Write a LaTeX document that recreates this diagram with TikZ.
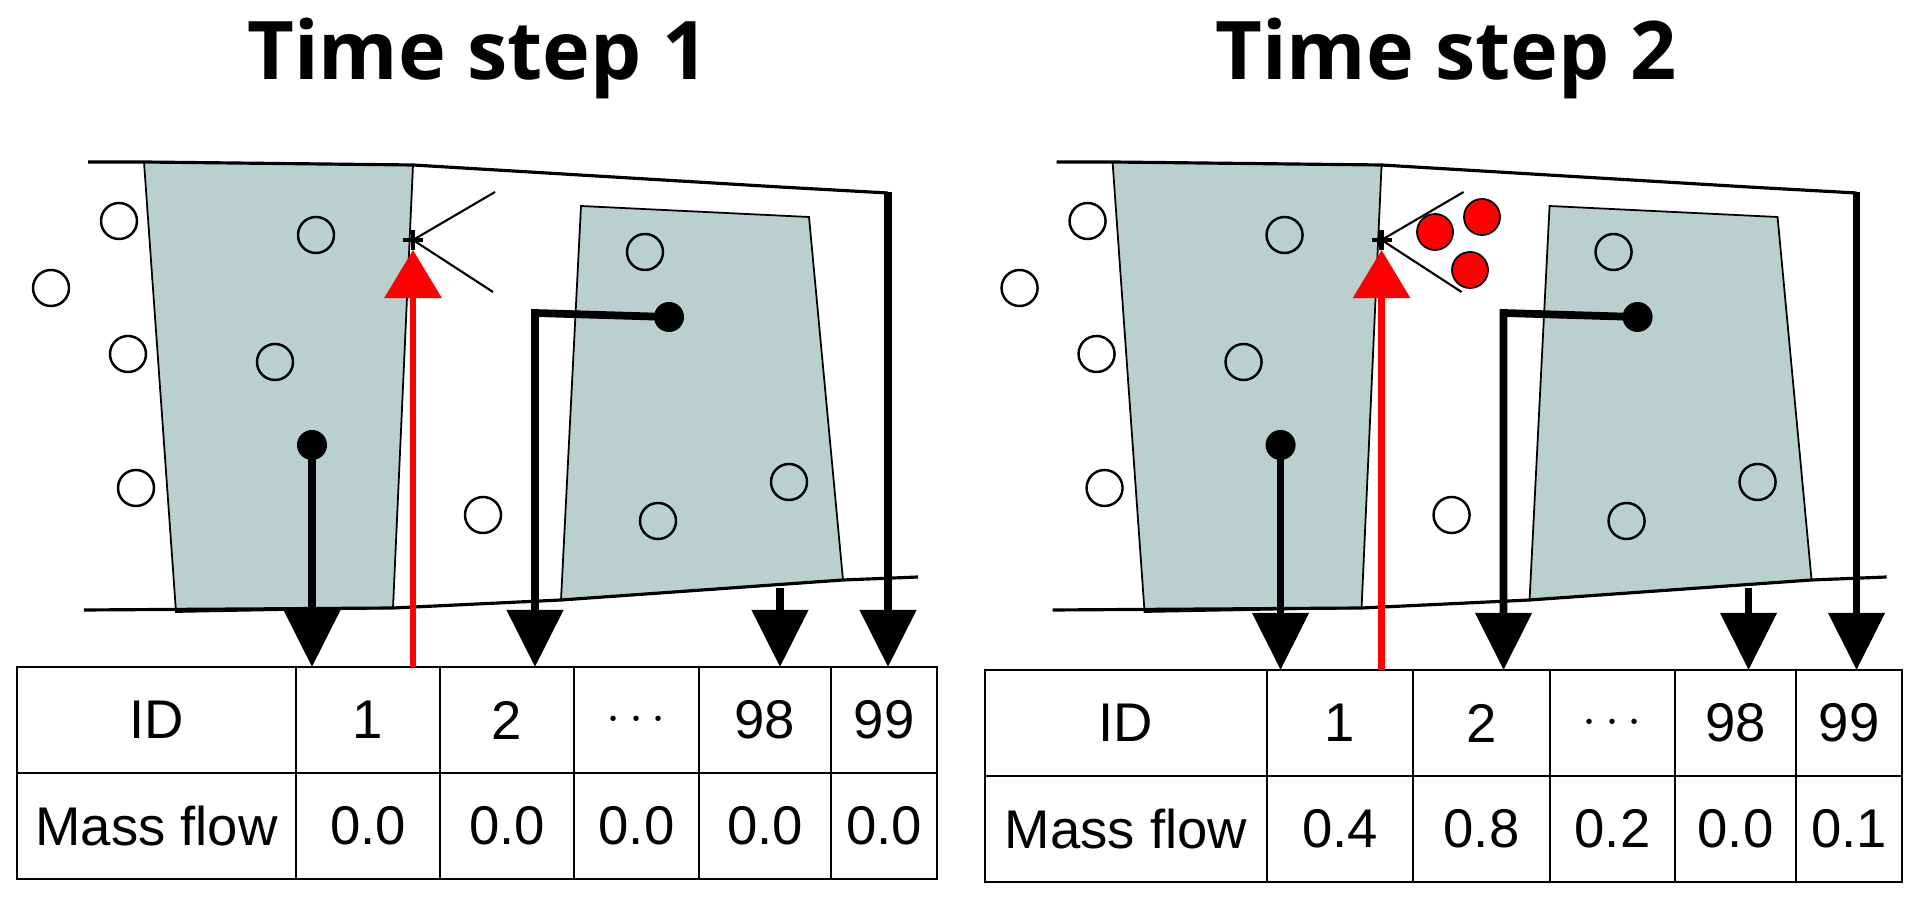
\documentclass[tikz,border=0pt]{standalone}
\usepackage{fontspec}
\setmainfont{Liberation Sans}
\newfontfamily\titlefont{Open Sans}
\usetikzlibrary{arrows.meta}
\definecolor{blockgray}{HTML}{B9D0CF}
\definecolor{pred}{HTML}{FF0000}
\tikzset{
  block/.style={fill=blockgray,draw=black,line width=0.5pt},
  bound/.style={draw=black,line width=0.9pt},
  part/.style={circle,draw=black,line width=0.7pt,inner sep=0pt,minimum size=0.36cm},
  redpart/.style={circle,draw=black,fill=pred,line width=0.5pt,inner sep=0pt,minimum size=0.36cm},
  dot/.style={circle,fill=black,inner sep=0pt,minimum size=0.3cm},
  link/.style={draw=black,line width=2.2pt,-{Triangle[width=0.55cm,length=0.57cm]}},
  redlink/.style={draw=pred,line width=1.8pt,-{Triangle[width=0.56cm,length=0.48cm]}},
  probe/.style={draw=black,line width=0.6pt},
  cell/.style={draw=black,line width=0.8pt,inner sep=0pt,outer sep=0pt,minimum height=1.06cm,font=\fontsize{15.5pt}{18pt}\selectfont},
  title/.style={font=\titlefont\bfseries\fontsize{23pt}{28pt}\selectfont}
}
\newcommand\drawpanel[2]{%
\begin{scope}[xshift=#2cm]
  \path[block] (144,162) -- (413,165) -- (393,608) -- (176,612) -- cycle;
  \path[block] (581,206) -- (809,217) -- (843,580) -- (561,600) -- cycle;
  \draw[bound] (88,162) -- (144,162) -- (413,165) -- (780,187) -- (888,193);
  \draw[bound] (84,610) -- (393,608) -- (561,600) -- (843,580) -- (918,577);
  \node[part] (#1c1) at (119,221) {};
  \node[part] (#1c2) at (51,288) {};
  \node[part] (#1c3) at (128,354) {};
  \node[part] (#1c4) at (136,488) {};
  \node[part] (#1c5) at (483,515) {};
  \node[part] (#1c6) at (316,235) {};
  \node[part] (#1c7) at (275,362) {};
  \node[part] (#1c8) at (645,252) {};
  \node[part] (#1c9) at (658,521) {};
  \node[part] (#1c10) at (789,482) {};
  \coordinate (#1cross) at (413,240);
  \coordinate (#1pa) at (495,192);
  \coordinate (#1pb) at (493,292);
  \draw[probe] (#1pa) -- (#1cross) -- (#1pb);
  \draw[line width=1.2pt] ([xshift=-0.1cm]#1cross) -- ([xshift=0.1cm]#1cross)
     ([yshift=-0.1cm]#1cross) -- ([yshift=0.1cm]#1cross);
  \node[dot] (#1d1) at (312,445) {};
  \node[dot] (#1d2) at (669,317) {};
  \coordinate (#1k2) at (535,313);
  \coordinate (#1b98) at (780,588);
  \coordinate (#1t99) at (888,192);
\end{scope}}
\begin{document}
\begin{tikzpicture}[x=0.01cm,y=-0.01cm]
\useasboundingbox (0,0) rectangle (1924,910);
\node[title] (t1) at (478,58) {Time step 1};
\node[title] (t2) at (1446,58) {Time step 2};
\drawpanel{L}{0}
\drawpanel{R}{9.68}
\node[redpart] (r1) at (1435,232) {};
\node[redpart] (r2) at (1482,217) {};
\node[redpart] (r3) at (1470,270) {};
% left table
\foreach \a/\b/\t/\m [count=\i] in {17/296/ID/Mass flow,296/440/1/0.0,440/574/2/0.0,574/699/\ensuremath{\cdots}/0.0,699/831/98/0.0,831/937/99/0.0}{
  \node[cell,minimum width={(\b-\a)*0.01cm}] (LA\i) at ({(\a+\b)/2},720) {\t};
  \node[cell,minimum width={(\b-\a)*0.01cm}] (LB\i) at ({(\a+\b)/2},826) {\m};
}
\foreach \a/\b/\t/\m [count=\i] in {985/1267/ID/Mass flow,1267/1413/1/0.4,1413/1550/2/0.8,1550/1675/\ensuremath{\cdots}/0.2,1675/1796/98/0.0,1796/1902/99/0.1}{
  \node[cell,minimum width={(\b-\a)*0.01cm}] (RA\i) at ({(\a+\b)/2},723) {\t};
  \node[cell,minimum width={(\b-\a)*0.01cm}] (RB\i) at ({(\a+\b)/2},829) {\m};
}
% connectors left
\draw[link] (Ld1.center) -- (Ld1.center |- LA2.north);
\draw[redlink] (LA2.north -| Lcross) -- ([yshift=-0.1cm]Lcross);
\draw[link] (Ld2.center) -- (Lk2) -- (Lk2 |- LA3.north);
\draw[link] (Lb98) -- (Lb98 |- LA5.north);
\draw[link] (Lt99) -- (Lt99 |- LA6.north);
% connectors right
\draw[link] (Rd1.center) -- (Rd1.center |- RA2.north);
\draw[redlink] (RA2.north -| Rcross) -- ([yshift=-0.1cm]Rcross);
\draw[link] (Rd2.center) -- (Rk2) -- (Rk2 |- RA3.north);
\draw[link] (Rb98) -- (Rb98 |- RA5.north);
\draw[link] (Rt99) -- (Rt99 |- RA6.north);
\end{tikzpicture}
\end{document}
